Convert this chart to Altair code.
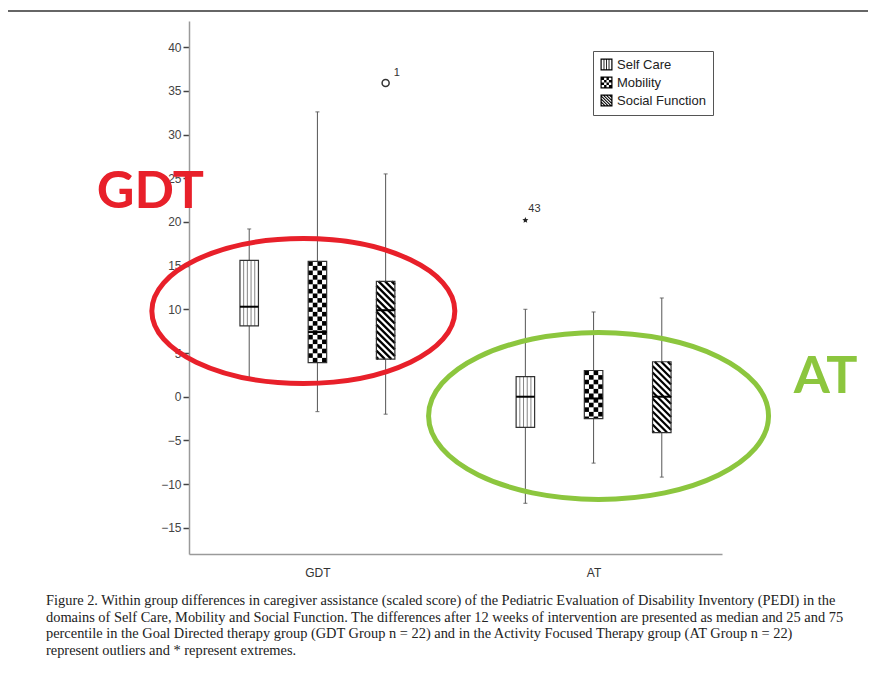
import math
import altair as alt
import pandas as pd

# ---------------- data ----------------
groups = ["GDT", "AT"]
domains = ["Self Care", "Mobility", "Social Function"]

box_group = ["GDT", "GDT", "GDT", "AT", "AT", "AT"]
box_domain = ["Self Care", "Mobility", "Social Function",
              "Self Care", "Mobility", "Social Function"]
whisker_low = [2.2, -1.7, -2.0, -12.2, -7.6, -9.2]
q1 = [8.1, 3.9, 4.3, -3.5, -2.5, -4.1]
median = [10.3, 7.4, 9.9, 0.0, -0.2, 0.0]
q3 = [15.6, 15.5, 13.2, 2.3, 3.0, 4.0]
whisker_high = [19.2, 32.6, 25.5, 10.0, 9.7, 11.3]

outlier_group = ["GDT"]
outlier_domain = ["Social Function"]
outlier_value = [35.9]
outlier_label = ["1"]

extreme_group = ["AT"]
extreme_domain = ["Self Care"]
extreme_value = [20.2]
extreme_label = ["43"]

y_ticks = [-15, -10, -5, 0, 5, 10, 15, 20, 25, 30, 35, 40]

caption_lines = [
    "Figure 2. Within group differences in caregiver assistance (scaled score) of the Pediatric Evaluation of Disability Inventory (PEDI) in the",
    "domains of Self Care, Mobility and Social Function. The differences after 12 weeks of intervention are presented as median and 25 and 75",
    "percentile in the Goal Directed therapy group (GDT Group n = 22) and in the Activity Focused Therapy group (AT Group n = 22)",
    "represent outliers and * represent extremes.",
]

# annotations (in data coordinates)
ann_text = ["GDT", "AT"]
ann_color = ["#E8202A", "#8CC63E"]
ann_x = [0.395, 2.84]
ann_y = [21.6, 0.42]
ell_x = [0.949, 2.018]
ell_y = [9.81, -2.2]
ell_w_px = [303, 340]
ell_ratio = [0.4785, 0.491]

# ---------------- layout ----------------
W, H = 533, 533
XDOM = [0.535, 2.465]
YDOM = [-18, 43]
PXX = W / (XDOM[1] - XDOM[0])
PXY = H / (YDOM[1] - YDOM[0])
STEP = 0.247
BOXW = 18.5
SANS = "Liberation Sans"
SERIF = "Liberation Serif"


def xpos(g, d):
    return groups.index(g) + 1 + (domains.index(d) - 1) * STEP


hw = BOXW / 2 / PXX
rows = []
for i in range(len(box_group)):
    x = xpos(box_group[i], box_domain[i])
    rows.append(dict(group=box_group[i], domain=box_domain[i], x=x, xl=x - hw, xr=x + hw,
                     lo=whisker_low[i], q1=q1[i], med=median[i], q3=q3[i], hi=whisker_high[i]))
box_df = pd.DataFrame(rows)

whisk_rows = []
cap_rows = []
for r in rows:
    whisk_rows.append(dict(x=r["x"], a=r["lo"], b=r["q1"]))
    whisk_rows.append(dict(x=r["x"], a=r["q3"], b=r["hi"]))
    cap_rows.append(dict(x=r["x"], y=r["lo"]))
    cap_rows.append(dict(x=r["x"], y=r["hi"]))
whisk_df = pd.DataFrame(whisk_rows)
cap_df = pd.DataFrame(cap_rows)

# patterns
vert_rows, check_rows, diag_rows = [], [], []
for r in rows:
    h_px = (r["q3"] - r["q1"]) * PXY
    if r["domain"] == "Self Care":
        for k in range(1, 5):
            xx = r["xl"] + k * BOXW / 5 / PXX
            vert_rows.append(dict(x=xx, a=r["q1"], b=r["q3"]))
    elif r["domain"] == "Mobility":
        ch, cw = 4.6, BOXW / 4
        n = math.ceil(h_px / ch - 1e-6)
        for i in range(n):
            top = r["q3"] - i * ch / PXY
            bot = max(r["q3"] - (i + 1) * ch / PXY, r["q1"])
            for j in range(4):
                if (i + j) % 2 == 0:
                    check_rows.append(dict(x=r["xl"] + j * cw / PXX, x2=r["xl"] + (j + 1) * cw / PXX,
                                           y=bot, y2=top))
    else:
        p = 6.5
        c = -BOXW + p / 2
        while c < h_px:
            x0 = max(0.0, -c)
            x1 = min(BOXW, h_px - c)
            if x1 > x0:
                diag_rows.append(dict(x=r["xl"] + x0 / PXX, y=r["q3"] - (x0 + c) / PXY,
                                      x2=r["xl"] + x1 / PXX, y2=r["q3"] - (x1 + c) / PXY))
            c += p
vert_df = pd.DataFrame(vert_rows)
check_df = pd.DataFrame(check_rows)
diag_df = pd.DataFrame(diag_rows)

out_df = pd.DataFrame(dict(x=[xpos(g, d) for g, d in zip(outlier_group, outlier_domain)],
                           y=outlier_value, label=outlier_label))
ext_df = pd.DataFrame(dict(x=[xpos(g, d) for g, d in zip(extreme_group, extreme_domain)],
                           y=extreme_value, label=extreme_label))


# ---------------- shapes ----------------
def fmt(v):
    return ("%.3f" % v).rstrip("0").rstrip(".")


def poly_path(pts):
    return "M" + " L".join(fmt(x) + "," + fmt(y) for x, y in pts) + " Z"


def ellipse_path(b):
    k = 0.5523
    return ("M-1,0 C-1,%s %s,%s 0,%s C%s,%s 1,%s 1,0 C1,%s %s,%s 0,%s C%s,%s -1,%s -1,0 Z" %
            (fmt(-b * k), fmt(-k), fmt(-b), fmt(-b), fmt(k), fmt(-b), fmt(-b * k),
             fmt(b * k), fmt(k), fmt(b), fmt(b), fmt(-k), fmt(b), fmt(b * k)))


def star_path():
    pts = []
    for i in range(10):
        rad = 1.0 if i % 2 == 0 else 0.45
        ang = -math.pi / 2 + i * math.pi / 5
        pts.append((rad * math.cos(ang), rad * math.sin(ang)))
    return poly_path(pts)


def clip_poly(pts, lo, hi):
    def clip(pts, inside, inter):
        out = []
        for i in range(len(pts)):
            cur, prev = pts[i], pts[i - 1]
            if inside(cur):
                if not inside(prev):
                    out.append(inter(prev, cur))
                out.append(cur)
            elif inside(prev):
                out.append(inter(prev, cur))
        return out

    def ix(k):
        return lambda p, c: (k, p[1] + (k - p[0]) / (c[0] - p[0]) * (c[1] - p[1]))

    def iy(k):
        return lambda p, c: (p[0] + (k - p[1]) / (c[1] - p[1]) * (c[0] - p[0]), k)

    pts = clip(pts, lambda p: p[0] >= lo, ix(lo))
    if pts:
        pts = clip(pts, lambda p: p[0] <= hi, ix(hi))
    if pts:
        pts = clip(pts, lambda p: p[1] >= lo, iy(lo))
    if pts:
        pts = clip(pts, lambda p: p[1] <= hi, iy(hi))
    return pts


A = 0.8
frame = "M-1,-1 L1,-1 L1,1 L-1,1 Z M%s,%s L%s,%s L%s,%s L%s,%s Z" % (
    fmt(-A), fmt(-A), fmt(-A), fmt(A), fmt(A), fmt(A), fmt(A), fmt(-A))
sc_icon = frame + " " + " ".join(
    poly_path([(x - 0.07, -A), (x + 0.07, -A), (x + 0.07, A), (x - 0.07, A)])
    for x in [-0.42, 0.0, 0.42])
cells = []
cs = 2 * A / 4
for i in range(4):
    for j in range(4):
        if (i + j) % 2 == 0:
            x0, y0 = -A + j * cs, -A + i * cs
            cells.append(poly_path([(x0, y0), (x0 + cs, y0), (x0 + cs, y0 + cs), (x0, y0 + cs)]))
mob_icon = frame + " " + " ".join(cells)
stripes = []
cc = -2.0
while cc < 2.0:
    poly = [(-3, -3 + cc), (3, 3 + cc), (3, 3 + cc + 0.25), (-3, -3 + cc + 0.25)]
    cp = clip_poly(poly, -A, A)
    if len(cp) >= 3:
        stripes.append(poly_path(cp))
    cc += 0.5
sf_icon = frame + " " + " ".join(stripes)

ann_df = pd.DataFrame(dict(text=ann_text, color=ann_color, x=ann_x, y=ann_y))
ell_df = pd.DataFrame(dict(x=ell_x, y=ell_y, color=ann_color,
                           size=[w * w for w in ell_w_px],
                           shape=[ellipse_path(b) for b in ell_ratio]))

# ---------------- scales / axes ----------------
xscale = alt.Scale(domain=XDOM, nice=False, zero=False)
yscale = alt.Scale(domain=YDOM, nice=False, zero=False)
xaxis = alt.Axis(values=[1, 2], title=None, grid=False, ticks=False,
                 labelExpr="datum.value == 1 ? '%s' : '%s'" % (groups[0], groups[1]),
                 domainColor="#9a9a9a", domainWidth=1.5, labelFont=SANS, labelFontSize=12,
                 labelColor="#333", labelPadding=13)
yaxis = alt.Axis(values=y_ticks, title=None, grid=False, domainColor="#9a9a9a", domainWidth=1.5,
                 tickColor="#444", tickSize=6, tickWidth=1.5, labelFont=SANS, labelFontSize=12,
                 labelColor="#444", labelPadding=2)


def X(f):
    return alt.X(f + ":Q", scale=xscale, axis=xaxis)


def Y(f):
    return alt.Y(f + ":Q", scale=yscale, axis=yaxis)


whiskers = alt.Chart(whisk_df).mark_rule(color="#555", strokeWidth=1).encode(
    x=X("x"), y=Y("a"), y2="b")
caps = alt.Chart(cap_df).mark_tick(orient="horizontal", size=4, thickness=1.2, color="#555").encode(
    x=X("x"), y=Y("y"))
box_fill = alt.Chart(box_df).mark_rect(color="white").encode(
    x=X("xl"), x2="xr", y=Y("q1"), y2="q3")
vert = alt.Chart(vert_df).mark_rule(color="#777", strokeWidth=0.9).encode(
    x=X("x"), y=Y("a"), y2="b")
check = alt.Chart(check_df).mark_rect(color="black").encode(
    x=X("x"), x2="x2", y=Y("y"), y2="y2")
diag = alt.Chart(diag_df).mark_rule(color="black", strokeWidth=2.2).encode(
    x=X("x"), x2="x2", y=Y("y"), y2="y2")
box_line = alt.Chart(box_df).mark_rect(filled=False, stroke="#333", strokeWidth=1.2).encode(
    x=X("xl"), x2="xr", y=Y("q1"), y2="q3")
med_line = alt.Chart(box_df).mark_rule(color="black", strokeWidth=2).encode(
    x=X("xl"), x2="xr", y=Y("med"))
outl = alt.Chart(out_df).mark_point(shape="circle", size=50, filled=False, stroke="#333",
                                    strokeWidth=1.5, opacity=1).encode(x=X("x"), y=Y("y"))
outl_txt = alt.Chart(out_df).mark_text(align="left", dx=8, dy=-10, font=SANS, fontSize=11,
                                       color="#333").encode(x=X("x"), y=Y("y"), text="label:N")
ext = alt.Chart(ext_df).mark_point(shape=star_path(), size=40, filled=True, color="#222",
                                   opacity=1).encode(x=X("x"), y=Y("y"))
ext_txt = alt.Chart(ext_df).mark_text(align="left", dx=3, dy=-11, font=SANS, fontSize=11,
                                      color="#333").encode(x=X("x"), y=Y("y"), text="label:N")

legend = alt.Legend(title=None, orient="none", legendX=404, legendY=30, strokeColor="#555",
                    padding=7, symbolSize=144, symbolOpacity=1, symbolFillColor="black",
                    symbolStrokeWidth=0, labelFont=SANS, labelFontSize=13, labelColor="#222",
                    rowPadding=4, labelOffset=4)
legend_layer = alt.Chart(box_df).mark_point(filled=True, opacity=0, color="black").encode(
    x=X("x"), y=Y("med"),
    shape=alt.Shape("domain:N", scale=alt.Scale(domain=domains, range=[sc_icon, mob_icon, sf_icon]),
                    legend=legend))

ellipses = alt.Chart(ell_df).mark_point(filled=False, strokeWidth=5, opacity=1).encode(
    x=X("x"), y=Y("y"),
    shape=alt.Shape("shape:N", scale=None),
    size=alt.Size("size:Q", scale=None),
    stroke=alt.Stroke("color:N", scale=None))
ann = alt.Chart(ann_df).mark_text(font="Lato", fontWeight="bold", fontSize=52, align="center",
                                  baseline="alphabetic").encode(
    x=X("x"), y=Y("y"), text="text:N", color=alt.Color("color:N", scale=None))

top_line = alt.Chart(pd.DataFrame({"k": [0]})).mark_rule(color="#333", strokeWidth=1.5).encode(
    x=alt.value(-181), x2=alt.value(679), y=alt.value(-10))

chart = alt.layer(
    whiskers, caps, box_fill, vert, check, diag, box_line, med_line,
    outl, outl_txt, ext, ext_txt, legend_layer, ellipses, ann, top_line
).properties(
    width=W, height=H,
    padding={"left": 181, "top": 13, "right": 146, "bottom": 110},
    autosize=alt.AutoSizeParams(type="none"),
    title=alt.TitleParams(text=caption_lines, orient="bottom", anchor="start", frame="group",
                          dx=-143, offset=16, font=SERIF, fontSize=14.4, fontWeight="normal",
                          color="#222", lineHeight=16.7),
).configure_view(stroke="transparent")

chart.save("out.html", embed_options={"renderer": "svg", "actions": False})
